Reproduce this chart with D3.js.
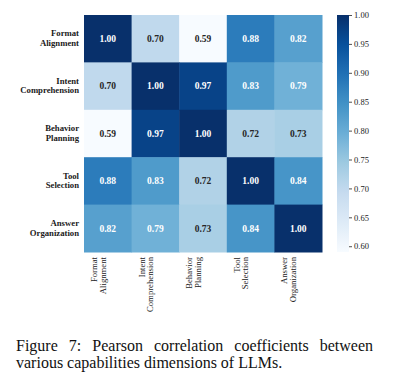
<!DOCTYPE html>
<html>
<head>
<meta charset="utf-8">
<script src="https://cdn.jsdelivr.net/npm/d3@7"></script>
<style>
  html, body { margin: 0; padding: 0; background: #fff; }
  svg { display: block; }
</style>
</head>
<body>
<svg id="chart" width="402" height="386"></svg>
<script>
// ---- data ----
const rowLabels = [["Format", "Alignment"], ["Intent", "Comprehension"], ["Behavior", "Planning"], ["Tool", "Selection"], ["Answer", "Organization"]];
const categories = ["Format Alignment", "Intent Comprehension", "Behavior Planning", "Tool Selection", "Answer Organization"];
const matrix = [
  [1.00, 0.70, 0.59, 0.88, 0.82],
  [0.70, 1.00, 0.97, 0.83, 0.79],
  [0.59, 0.97, 1.00, 0.72, 0.73],
  [0.88, 0.83, 0.72, 1.00, 0.84],
  [0.82, 0.79, 0.73, 0.84, 1.00]
];
const colorbarTicks = [0.60, 0.65, 0.70, 0.75, 0.80, 0.85, 0.90, 0.95, 1.00];
const bluesStops = ["#f7fbff", "#deebf7", "#c6dbef", "#9ecae1", "#6baed6", "#4292c6", "#2171b5", "#08519c", "#08306b"];
const captionLines = ["Figure 7:  Pearson correlation coefficients between", "various capabilities dimensions of LLMs."];

// ---- setup ----
const svg = d3.select("#chart");
const serif = "'Liberation Serif', 'Times New Roman', serif";
const vmin = d3.min(matrix.flat()), vmax = d3.max(matrix.flat());
const interp = d3.piecewise(d3.interpolateRgb, bluesStops);
const color = d3.scaleSequential(interp).domain([vmin, vmax]);

const x = d3.scaleBand().domain(categories).range([84, 322]);
const y = d3.scaleBand().domain(categories).range([15, 252]);

function relLum(c) {
  const rgb = d3.rgb(c);
  const f = v => { v /= 255; return v <= 0.03928 ? v / 12.92 : Math.pow((v + 0.055) / 1.055, 2.4); };
  return 0.2126 * f(rgb.r) + 0.7152 * f(rgb.g) + 0.0722 * f(rgb.b);
}

const cells = [];
matrix.forEach((row, i) => row.forEach((v, j) => cells.push({ r: categories[i], c: categories[j], v })));

svg.append("g").selectAll("rect").data(cells).join("rect")
  .attr("x", d => x(d.c)).attr("y", d => y(d.r))
  .attr("width", x.bandwidth() + 0.5).attr("height", y.bandwidth() + 0.5)
  .attr("fill", d => color(d.v));

svg.append("g").selectAll("text").data(cells).join("text")
  .attr("x", d => x(d.c) + x.bandwidth() / 2)
  .attr("y", d => y(d.r) + y.bandwidth() / 2)
  .attr("dy", "0.35em")
  .attr("text-anchor", "middle")
  .attr("font-family", serif).attr("font-weight", "bold").attr("font-size", "9.5px")
  .attr("fill", d => relLum(color(d.v)) > 0.408 ? "#262626" : "#ffffff")
  .text(d => d.v.toFixed(2));

// y labels
const yl = svg.append("g");
categories.forEach((c, i) => {
  const cy = y(c) + y.bandwidth() / 2;
  const t = yl.append("text")
    .attr("text-anchor", "end")
    .attr("font-family", serif).attr("font-weight", "bold").attr("font-size", "8.7px")
    .attr("fill", "#1a1a1a");
  t.append("tspan").attr("x", 79).attr("y", cy - 2.3).text(rowLabels[i][0]);
  t.append("tspan").attr("x", 79).attr("y", cy + 7.3).text(rowLabels[i][1]);
});

// x labels (rotated)
const xl = svg.append("g");
categories.forEach((c, i) => {
  const cx = x(c) + x.bandwidth() / 2;
  const t = xl.append("text")
    .attr("transform", `translate(${cx},257) rotate(-90)`)
    .attr("text-anchor", "end")
    .attr("font-family", serif).attr("font-size", "8.7px")
    .attr("fill", "#1a1a1a");
  t.append("tspan").attr("x", 0).attr("y", -10.8).text(rowLabels[i][0]);
  t.append("tspan").attr("x", 0).attr("y", -2.2).text(rowLabels[i][1]);
});

// colorbar
const cbY = d3.scaleLinear().domain([vmin, vmax]).range([252, 15]);
const defs = svg.append("defs");
const grad = defs.append("linearGradient").attr("id", "cbgrad")
  .attr("x1", 0).attr("y1", 1).attr("x2", 0).attr("y2", 0);
d3.range(0, 1.0001, 1 / 32).forEach(t => {
  grad.append("stop").attr("offset", t).attr("stop-color", color(vmin + t * (vmax - vmin)));
});
svg.append("rect").attr("x", 337).attr("y", cbY(vmax)).attr("width", 12)
  .attr("height", cbY(vmin) - cbY(vmax)).attr("fill", "url(#cbgrad)");

const cbAxis = svg.append("g").attr("transform", "translate(349,0)")
  .call(d3.axisRight(cbY).tickValues(colorbarTicks).tickFormat(d3.format(".2f")).tickSize(3).tickPadding(2));
cbAxis.select(".domain").remove();
cbAxis.selectAll("line").attr("stroke", "#222").attr("stroke-width", 0.8);
cbAxis.selectAll("text").attr("font-family", serif).attr("font-size", "8.5px").attr("fill", "#1a1a1a");

// caption
const cap = svg.append("g").attr("font-family", serif).attr("font-size", "16px").attr("fill", "#111");
(function justify(line, x0, x1, yb) {
  const words = line.split(/\s+/);
  const tmp = cap.append("text");
  const widths = words.map(w => { tmp.text(w); return tmp.node().getComputedTextLength(); });
  tmp.remove();
  const total = d3.sum(widths);
  const gap = (x1 - x0 - total) / (words.length - 1);
  let cx = x0;
  words.forEach((w, k) => {
    cap.append("text").attr("x", cx).attr("y", yb).text(w);
    cx += widths[k] + gap;
  });
})(captionLines[0], 16, 373, 350.5);
cap.append("text").attr("x", 16).attr("y", 367.5).text(captionLines[1]);
</script>
</body>
</html>
